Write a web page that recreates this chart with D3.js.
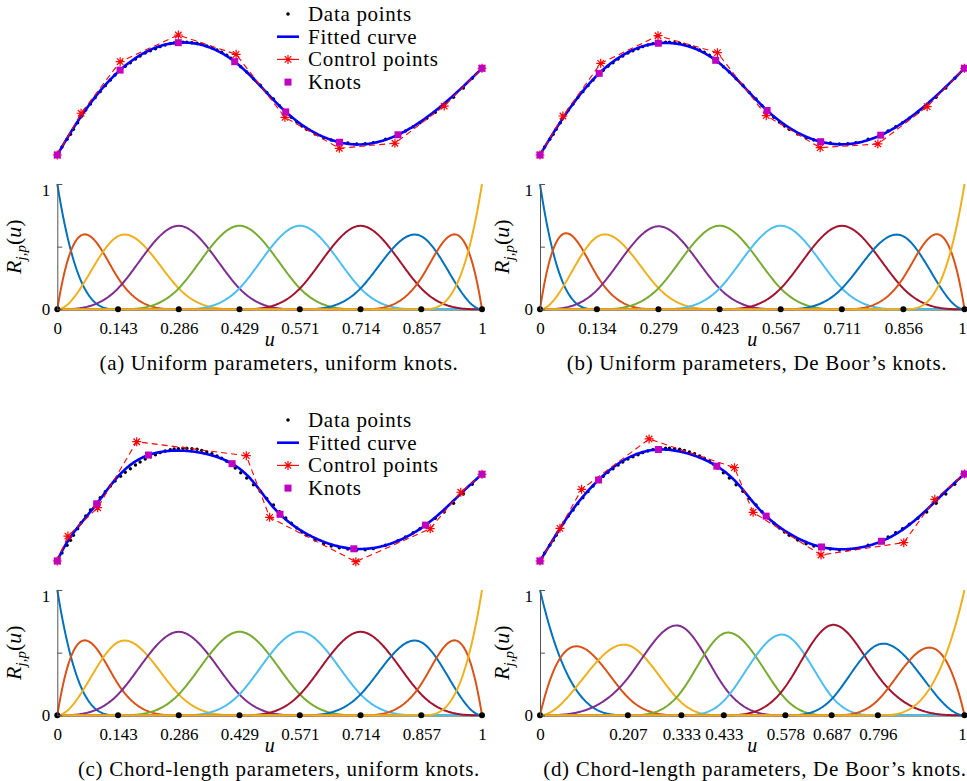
<!DOCTYPE html>
<html>
<head>
<meta charset="utf-8">
<script src="https://cdn.jsdelivr.net/npm/d3@7"></script>
<style>
  body { margin: 0; background: #fff; }
  svg { display: block; }
</style>
</head>
<body>
<svg id="chart" width="967" height="781"></svg>
<script>
// Data points (same sample set in every panel)
const dataX = [0.000,0.011,0.023,0.031,0.038,0.048,0.056,0.067,0.078,0.089,0.101,0.113,0.125,0.136,0.149,0.160,0.172,0.184,0.195,0.207,0.219,0.231,0.242,0.254,0.266,0.275,0.285,0.296,0.305,0.317,0.329,0.340,0.352,0.364,0.376,0.387,0.399,0.409,0.419,0.432,0.446,0.462,0.478,0.493,0.509,0.523,0.538,0.551,0.564,0.576,0.587,0.607,0.627,0.645,0.664,0.684,0.705,0.725,0.744,0.773,0.802,0.820,0.838,0.854,0.870,0.890,0.911,0.933,0.956,0.977,1.000];
const dataY = [0.000,0.067,0.131,0.172,0.214,0.269,0.319,0.375,0.425,0.478,0.528,0.578,0.625,0.667,0.706,0.739,0.769,0.800,0.825,0.850,0.869,0.886,0.903,0.917,0.928,0.933,0.936,0.939,0.939,0.936,0.931,0.922,0.908,0.894,0.875,0.856,0.831,0.806,0.775,0.736,0.692,0.636,0.581,0.522,0.467,0.411,0.358,0.314,0.275,0.242,0.214,0.175,0.144,0.125,0.111,0.100,0.092,0.094,0.103,0.131,0.169,0.200,0.236,0.269,0.306,0.356,0.408,0.481,0.558,0.639,0.722];

// Knot values (also used as tick labels)
const knotsUniform = [0, 0.143, 0.286, 0.429, 0.571, 0.714, 0.857, 1];
const labelsUniform = ['0', '0.143', '0.286', '0.429', '0.571', '0.714', '0.857', '1'];
const knotsDeBoorB = [0, 0.134, 0.279, 0.423, 0.567, 0.711, 0.856, 1];
const labelsDeBoorB = ['0', '0.134', '0.279', '0.423', '0.567', '0.711', '0.856', '1'];
const knotsDeBoorD = [0, 0.207, 0.333, 0.433, 0.578, 0.687, 0.796, 1];
const labelsDeBoorD = ['0', '0.207', '0.333', '0.433', '0.578', '0.687', '0.796', '1'];

// Control points for each panel
const ctrlAX = [0, 0.056, 0.148, 0.285, 0.421, 0.536, 0.664, 0.795, 0.911, 1];
const ctrlAY = [0, 0.348, 0.778, 1.000, 0.839, 0.314, 0.056, 0.098, 0.408, 0.723];
const ctrlBX = [0, 0.054, 0.143, 0.278, 0.418, 0.533, 0.660, 0.796, 0.912, 1];
const ctrlBY = [0, 0.325, 0.764, 0.994, 0.853, 0.328, 0.061, 0.092, 0.403, 0.723];
const ctrlCX = [0, 0.025, 0.095, 0.187, 0.445, 0.500, 0.703, 0.878, 0.950, 1];
const ctrlCY = [0, 0.208, 0.444, 0.994, 0.878, 0.364, -0.006, 0.269, 0.573, 0.723];
const ctrlDX = [0, 0.047, 0.098, 0.257, 0.458, 0.502, 0.662, 0.857, 0.930, 1];
const ctrlDY = [0, 0.272, 0.597, 1.017, 0.778, 0.406, 0.050, 0.153, 0.514, 0.725];

const legendItems = ['Data points', 'Fitted curve', 'Control points', 'Knots'];
const basisColors = ['#0072BD', '#D95319', '#EDB120', '#7E2F8E', '#77AC30', '#4DBEEE', '#A2142F', '#0072BD', '#D95319', '#EDB120'];

const DEGREE = 3;
const serif = '"Liberation Serif", "Times New Roman", serif';

// Cox-de Boor recursion on a clamped knot vector
function clampedKnots(knots) {
    return [0, 0, 0].concat(knots, [1, 1, 1]);
}

function basisN(t, i, p, u) {
    if (p === 0) {
        const last = t[t.length - 1];
        if (t[i] <= u && u < t[i + 1]) return 1;
        if (u === last && t[i] < t[i + 1] && t[i + 1] === last) return 1;
        return 0;
    }
    let a = 0, b = 0;
    const d1 = t[i + p] - t[i];
    const d2 = t[i + p + 1] - t[i + 1];
    if (d1 > 0) a = (u - t[i]) / d1 * basisN(t, i, p - 1, u);
    if (d2 > 0) b = (t[i + p + 1] - u) / d2 * basisN(t, i + 1, p - 1, u);
    return a + b;
}

function curvePoint(t, cx, cy, u) {
    let x = 0, y = 0;
    for (let i = 0; i < cx.length; i++) {
        const n = basisN(t, i, DEGREE, u);
        x += n * cx[i];
        y += n * cy[i];
    }
    return [x, y];
}

const uSamples = d3.range(0, 401).map(k => k / 400);

const svg = d3.select('#chart');

function starPath(r) {
    const s = r * 0.72;
    return `M${-r},0H${r}M0,${-r}V${r}M${-s},${-s}L${s},${s}M${-s},${s}L${s},${-s}`;
}

function drawPanel(cfg) {
    const g = svg.append('g');
    const t = clampedKnots(cfg.knots);

    // ---------- top: data, fitted curve, control polygon, knots ----------
    const xTop = d3.scaleLinear().domain([0, 1]).range([cfg.x0, cfg.x1]);
    const yTop = d3.scaleLinear().domain([0, 1]).range([155 + cfg.dy, 35 + cfg.dy]);

    g.selectAll('.data-pt')
        .data(dataX.map((x, i) => [x, dataY[i]]))
        .enter().append('circle')
        .attr('cx', d => xTop(d[0]))
        .attr('cy', d => yTop(d[1]))
        .attr('r', 1.7)
        .attr('fill', '#000');

    const fitted = uSamples.map(u => curvePoint(t, cfg.cx, cfg.cy, u));
    const line = d3.line().x(d => xTop(d[0])).y(d => yTop(d[1]));

    g.append('path')
        .datum(fitted)
        .attr('d', line)
        .attr('fill', 'none')
        .attr('stroke', '#0000ff')
        .attr('stroke-width', 2.6);

    const ctrl = cfg.cx.map((x, i) => [x, cfg.cy[i]]);
    g.append('path')
        .datum(ctrl)
        .attr('d', line)
        .attr('fill', 'none')
        .attr('stroke', '#ff0000')
        .attr('stroke-width', 1.1)
        .attr('stroke-dasharray', '6,4');

    g.selectAll('.ctrl-pt')
        .data(ctrl)
        .enter().append('path')
        .attr('transform', d => `translate(${xTop(d[0])},${yTop(d[1])})`)
        .attr('d', starPath(4.5))
        .attr('stroke', '#ff0000')
        .attr('stroke-width', 1.2)
        .attr('fill', 'none');

    const knotPts = cfg.knots.map(u => curvePoint(t, cfg.cx, cfg.cy, u));
    g.selectAll('.knot-pt')
        .data(knotPts)
        .enter().append('rect')
        .attr('x', d => xTop(d[0]) - 3.5)
        .attr('y', d => yTop(d[1]) - 3.5)
        .attr('width', 7)
        .attr('height', 7)
        .attr('fill', '#c000c0');

    // legend
    if (cfg.legend) {
        const lg = g.append('g');
        legendItems.forEach((name, i) => {
            const ly = 14 + cfg.dy + i * 22.7;
            const lx = 288;
            if (i === 0) {
                lg.append('circle').attr('cx', lx).attr('cy', ly).attr('r', 1.8).attr('fill', '#000');
            } else if (i === 1) {
                lg.append('line').attr('x1', lx - 11).attr('x2', lx + 11).attr('y1', ly).attr('y2', ly)
                    .attr('stroke', '#0000ff').attr('stroke-width', 2.6);
            } else if (i === 2) {
                lg.append('line').attr('x1', lx - 11).attr('x2', lx + 11).attr('y1', ly).attr('y2', ly)
                    .attr('stroke', '#ff0000').attr('stroke-width', 1.1);
                lg.append('path').attr('transform', `translate(${lx},${ly})`).attr('d', starPath(4.5))
                    .attr('stroke', '#ff0000').attr('stroke-width', 1.2).attr('fill', 'none');
            } else {
                lg.append('rect').attr('x', lx - 3.5).attr('y', ly - 3.5).attr('width', 7).attr('height', 7)
                    .attr('fill', '#c000c0');
            }
            lg.append('text')
                .attr('x', 308)
                .attr('y', ly)
                .attr('dy', '0.33em')
                .attr('font-family', serif)
                .attr('font-size', 21)
                .attr('letter-spacing', 0.7)
                .attr('fill', '#000')
                .text(name);
        });
    }

    // ---------- bottom: basis functions ----------
    const xB = d3.scaleLinear().domain([0, 1]).range([cfg.x0, cfg.x1]);
    const yB = d3.scaleLinear().domain([0, 1]).range([309.3 + cfg.dy, 184 + cfg.dy]);

    const nBasis = t.length - DEGREE - 1;
    for (let i = 0; i < nBasis; i++) {
        const pts = uSamples.map(u => [u, basisN(t, i, DEGREE, u)]);
        g.append('path')
            .datum(pts)
            .attr('d', d3.line().x(d => xB(d[0])).y(d => yB(d[1])))
            .attr('fill', 'none')
            .attr('stroke', basisColors[i])
            .attr('stroke-width', 2);
    }

    g.selectAll('.knot-dot')
        .data(cfg.knots)
        .enter().append('circle')
        .attr('cx', d => xB(d))
        .attr('cy', yB(0))
        .attr('r', 3)
        .attr('fill', '#000');

    // y axis
    const yAxis = g.append('g')
        .attr('transform', `translate(${cfg.x0},0)`)
        .call(d3.axisLeft(yB)
            .tickValues([0, 0.5, 1])
            .tickFormat(d => d === 0.5 ? '' : d3.format('d')(d))
            .tickSizeInner(-5)
            .tickSizeOuter(0)
            .tickPadding(7));
    yAxis.select('.domain').attr('stroke', '#555').attr('stroke-width', 1);
    yAxis.selectAll('.tick line').attr('stroke', '#555');
    yAxis.selectAll('.tick text')
        .attr('font-family', serif)
        .attr('font-size', 17)
        .attr('fill', '#000');
    yAxis.selectAll('.tick text').filter(d => d === 1).attr('dy', '0.7em');

    // x tick labels at the knots
    const xAxis = g.append('g')
        .attr('transform', `translate(0,${yB(0)})`)
        .call(d3.axisBottom(xB)
            .tickValues(cfg.knots)
            .tickFormat((d, i) => cfg.labels[i])
            .tickSize(0)
            .tickPadding(13));
    xAxis.select('.domain').remove();
    xAxis.selectAll('.tick text')
        .attr('font-family', serif)
        .attr('font-size', 17)
        .attr('fill', '#000');
    // keep the last label inside the page on the right column
    xAxis.selectAll('.tick text').filter(d => d === 1).attr('dx', cfg.lastDx);

    // axis labels
    g.append('text')
        .attr('x', (cfg.x0 + cfg.x1) / 2)
        .attr('y', 346 + cfg.dy)
        .attr('text-anchor', 'middle')
        .attr('font-family', serif)
        .attr('font-size', 20)
        .attr('font-style', 'italic')
        .text('u');

    const yl = g.append('text')
        .attr('transform', `translate(${cfg.x0 - cfg.ylabOff},${246.7 + cfg.dy}) rotate(-90)`)
        .attr('text-anchor', 'middle')
        .attr('font-family', serif)
        .attr('font-size', 22);
    yl.append('tspan').attr('font-style', 'italic').text('R');
    yl.append('tspan').attr('font-style', 'italic').attr('font-size', 15).attr('dy', 5).text('j,p');
    yl.append('tspan').attr('dy', -5).text('(');
    yl.append('tspan').attr('font-style', 'italic').text('u');
    yl.append('tspan').text(')');

    // caption
    g.append('text')
        .attr('x', cfg.capX)
        .attr('y', 370 + cfg.dy)
        .attr('text-anchor', 'middle')
        .attr('font-family', serif)
        .attr('font-size', 21)
        .attr('letter-spacing', 0.7)
        .attr('fill', '#000')
        .text(cfg.caption);
}

drawPanel({ x0: 57.3, x1: 482, dy: 0, knots: knotsUniform, labels: labelsUniform,
    cx: ctrlAX, cy: ctrlAY, legend: true, ylabOff: 36, capX: 279, lastDx: 0,
    caption: '(a) Uniform parameters, uniform knots.' });
drawPanel({ x0: 540, x1: 964.5, dy: 0, knots: knotsDeBoorB, labels: labelsDeBoorB,
    cx: ctrlBX, cy: ctrlBY, legend: false, ylabOff: 31, capX: 757, lastDx: -2.5,
    caption: '(b) Uniform parameters, De Boor\u2019s knots.' });
drawPanel({ x0: 57.3, x1: 482, dy: 406, knots: knotsUniform, labels: labelsUniform,
    cx: ctrlCX, cy: ctrlCY, legend: true, ylabOff: 36, capX: 279, lastDx: 0,
    caption: '(c) Chord-length parameters, uniform knots.' });
drawPanel({ x0: 540, x1: 964.5, dy: 406, knots: knotsDeBoorD, labels: labelsDeBoorD,
    cx: ctrlDX, cy: ctrlDY, legend: false, ylabOff: 31, capX: 755, lastDx: -2.5,
    caption: '(d) Chord-length parameters, De Boor\u2019s knots.' });
</script>
</body>
</html>
